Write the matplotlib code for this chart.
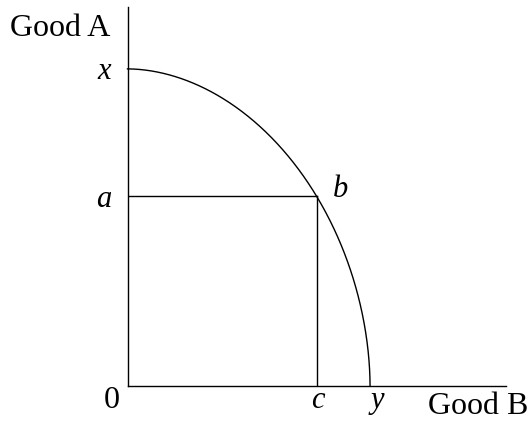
import numpy as np
import matplotlib
matplotlib.use("Agg")
import matplotlib.pyplot as plt

# Frontier data (model units)
x_intercept = 7.69   # Good B max (point y)
y_intercept = 10.04  # Good A max (point x)
curv_exp = 1.9
point_b = (6.0, 6.02)  # (c, a)
axis_max = 12.0

PX = 0.72  # points per pixel at dpi 100

fig = plt.figure(figsize=(5.28, 4.23), dpi=100)
ax = fig.add_axes([127.5 / 528, 37 / 423, 378.5 / 528, 379 / 423])
ax.set_xlim(0, axis_max)
ax.set_ylim(0, axis_max)
for s in ["top", "right"]:
    ax.spines[s].set_visible(False)
for s in ["left", "bottom"]:
    ax.spines[s].set_linewidth(1.0)
    ax.spines[s].set_color("black")
ax.set_xticks([])
ax.set_yticks([])

t = np.linspace(0, np.pi / 2, 600)
xs = x_intercept * np.cos(t) ** (2 / curv_exp)
ys = y_intercept * np.sin(t) ** (2 / curv_exp)
ax.plot(xs, ys, color="black", lw=1.0, clip_on=False)

bx, by = point_b
ax.plot([0, bx], [by, by], color="black", lw=1.0)
ax.plot([bx, bx], [0, by], color="black", lw=1.0)

font = dict(family="Liberation Serif", size=23, color="black")
ifont = dict(family="Liberation Serif", size=22, style="italic", color="black")

def lab(txt, xy, off, ha, va, f):
    ax.annotate(txt, xy=xy, xytext=(off[0] * PX, off[1] * PX),
                textcoords="offset points", ha=ha, va=va,
                annotation_clip=False, **f)

lab("Good A", (0, axis_max), (-17.5, -29), "right", "baseline", font)
lab("x", (0, y_intercept), (-16.5, -3), "right", "center", ifont)
lab("a", (0, by), (-16.5, -4), "right", "center", ifont)
lab("b", (bx, by), (16, -1), "left", "baseline", ifont)
lab("0", (0, 0), (-7.5, -22), "right", "baseline", font)
lab("c", (bx, 0), (1, -22), "center", "baseline", ifont)
lab("y", (x_intercept, 0), (7, -22), "center", "baseline", ifont)
lab("Good B", (axis_max, 0), (-78, -28), "left", "baseline", font)

fig.savefig("out.png", dpi=100)
